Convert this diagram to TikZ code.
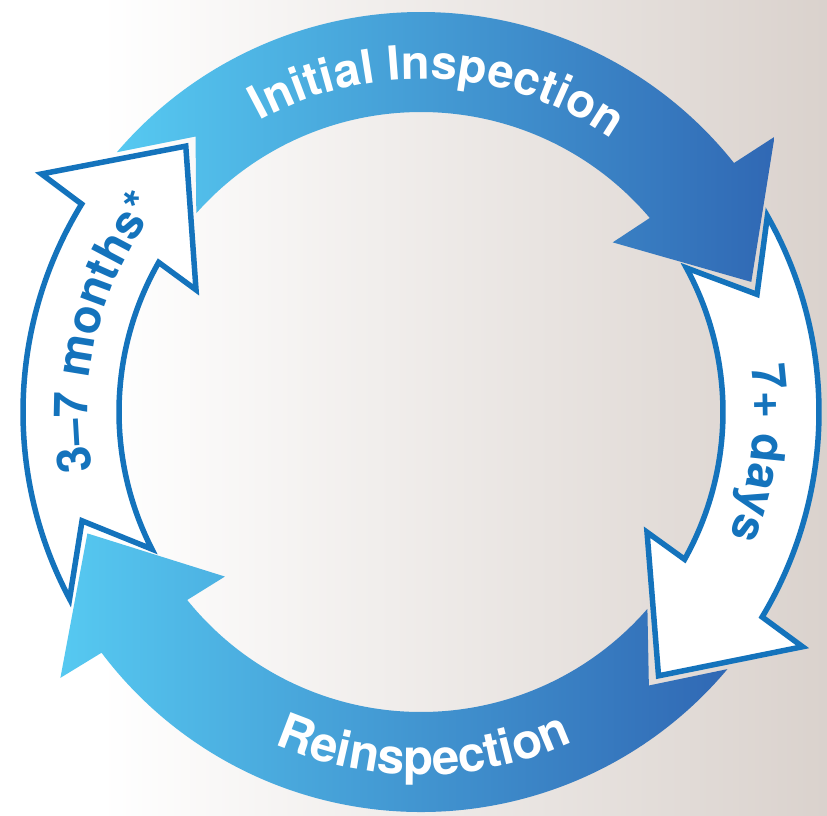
\documentclass[tikz,border=0pt]{standalone}
\usepackage{fontspec}
\setmainfont{TeX Gyre Heros}
\usetikzlibrary{decorations.text}

\definecolor{ringcyan}{RGB}{86,201,241}
\definecolor{ringblue}{RGB}{48,104,180}
\definecolor{lineblue}{RGB}{20,115,188}
\definecolor{bgbeige}{RGB}{218,210,205}
\newcommand{\ringfont}{\bfseries\fontsize{47pt}{50pt}\selectfont}

\begin{document}
\begin{tikzpicture}[
	bluearrow/.style={left color=ringcyan,right color=ringblue},
	whitearrow/.style={fill=white,draw=lineblue,line width=5.5pt},
	ringlabel/.style={decorate,decoration={text along path,text align=center,text={#1}}}]
	\useasboundingbox (-421pt,-403pt) rectangle (406pt,412pt);
	% background
	\fill[white] (-421pt,-403pt) rectangle (-320pt,412pt);
	\shade[left color=white,right color=bgbeige] (-320pt,-403pt) rectangle (406pt,412pt);

	% Initial Inspection
	\shade[bluearrow] (139.5:400pt) arc[start angle=139.5,end angle=38.5,radius=400pt]
		-- (37.9:448pt) -- (21.5:355pt) -- (41.5:256pt) -- (40.3:300pt)
		arc[start angle=40.3,end angle=138.5,radius=300pt] -- (129.3:356pt) -- cycle;
	% 7+ days
	\draw[whitearrow] (29.5:398pt) arc[start angle=29.5,end angle=-31,radius=398pt]
		-- (-31.6:448pt) -- (-48:355pt) -- (-28:256pt) -- (-29.2:302pt)
		arc[start angle=-29.2,end angle=28.5,radius=302pt] -- (19.3:356pt) -- cycle;
	% Reinspection
	\shade[bluearrow] (-40:400pt) arc[start angle=-40,end angle=-143,radius=400pt]
		-- (-143.6:448pt) -- (-160:355pt) -- (-140:256pt) -- (-141.2:300pt)
		arc[start angle=-141.2,end angle=-41,radius=300pt] -- (-50.2:356pt) -- cycle;
	% 3-7 months
	\draw[whitearrow] (-152:398pt) arc[start angle=-152,end angle=-211.5,radius=398pt]
		-- (-212.1:448pt) -- (-228.5:355pt) -- (-208.5:256pt) -- (-209.7:302pt)
		arc[start angle=-209.7,end angle=-153,radius=302pt] -- (-162.2:356pt) -- cycle;

	% labels
	\path[ringlabel={|\ringfont\color{white}|Initial Inspection}]
		(150:333pt) arc[start angle=150,end angle=24,radius=333pt];
	\path[ringlabel={|\ringfont\color{lineblue}|7+ days}]
		(40:333pt) arc[start angle=40,end angle=-54,radius=333pt];
	\path[ringlabel={|\ringfont\fontsize{49pt}{52pt}\selectfont\color{white}|Reinspection}]
		(-150:363pt) arc[start angle=-150,end angle=-29,radius=363pt];
	\path[ringlabel={|\ringfont\color{lineblue}|3–7 months*}]
		(212:333pt) arc[start angle=212,end angle=120,radius=333pt];
\end{tikzpicture}
\end{document}
